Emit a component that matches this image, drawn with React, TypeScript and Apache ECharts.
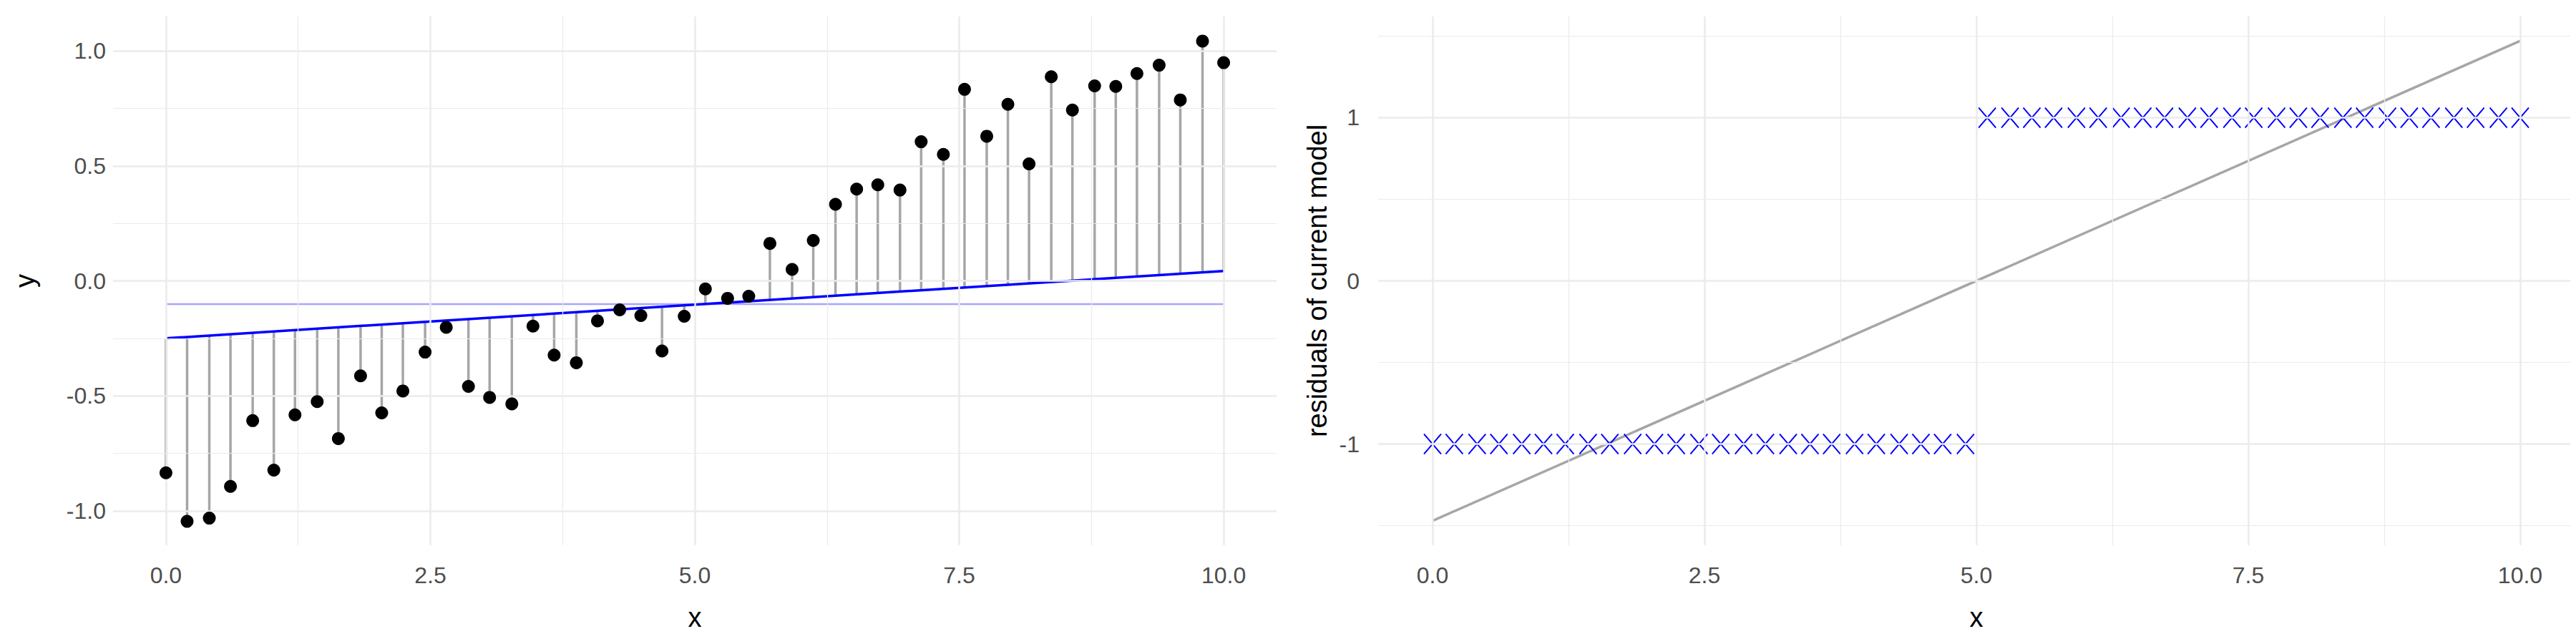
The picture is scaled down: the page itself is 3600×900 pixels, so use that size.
import { useEffect, useRef } from "react";
import * as echarts from "echarts";

const xs = [
  0, 0.2, 0.41, 0.61, 0.82, 1.02, 1.22, 1.43, 1.63, 1.84, 2.04, 2.24, 2.45, 2.65, 2.86, 3.06, 3.27,
  3.47, 3.67, 3.88, 4.08, 4.29, 4.49, 4.69, 4.9, 5.1, 5.31, 5.51, 5.71, 5.92, 6.12, 6.33, 6.53, 6.73,
  6.94, 7.14, 7.35, 7.55, 7.76, 7.96, 8.16, 8.37, 8.57, 8.78, 8.98, 9.18, 9.39, 9.59, 9.8, 10,
];
const ys = [
  -0.835, -1.046, -1.032, -0.894, -0.608, -0.823, -0.583, -0.525, -0.686, -0.413, -0.574, -0.479,
  -0.31, -0.202, -0.459, -0.507, -0.535, -0.197, -0.323, -0.356, -0.174, -0.126, -0.151, -0.305,
  -0.154, -0.035, -0.076, -0.067, 0.163, 0.05, 0.176, 0.333, 0.399, 0.418, 0.395, 0.605, 0.55, 0.833,
  0.629, 0.768, 0.509, 0.888, 0.743, 0.848, 0.846, 0.902, 0.938, 0.787, 1.043, 0.949,
];
const residualSigns = [
  -1, -1, -1, -1, -1, -1, -1, -1, -1, -1, -1, -1, -1, -1, -1, -1, -1, -1, -1, -1, -1, -1, -1, -1, -1,
  1, 1, 1, 1, 1, 1, 1, 1, 1, 1, 1, 1, 1, 1, 1, 1, 1, 1, 1, 1, 1, 1, 1, 1, 1, 1, 1, 1, 1, 1,
];
const fitLine: [number, number][] = [[0, -0.25], [10, 0.043]];
const meanY = -0.101;
const learnerLine: [number, number][] = [[0, -1.47], [10, 1.47]];

const xMajor = [0, 2.5, 5, 7.5, 10];
const xMinor = [1.25, 3.75, 6.25, 8.75];
const leftYMajor = [-1, -0.5, 0, 0.5, 1];
const leftYMinor = [-0.75, -0.25, 0.25, 0.75];
const rightYMajor = [-1, 0, 1];
const rightYMinor = [-1.5, -0.5, 0.5, 1.5];

const GRID = "#ebebeb";
const FONT = "Liberation Sans, Arial, sans-serif";

const gridLines = (yMajor: number[], yMinor: number[]) => [
  ...xMajor.map((v) => ({ xAxis: v, lineStyle: { width: 2.5 } })),
  ...xMinor.map((v) => ({ xAxis: v, lineStyle: { width: 1.2 } })),
  ...yMajor.map((v) => ({ yAxis: v, lineStyle: { width: 2.5 } })),
  ...yMinor.map((v) => ({ yAxis: v, lineStyle: { width: 1.2 } })),
];

const fitAt = (x: number) =>
  fitLine[0][1] + ((x - fitLine[0][0]) * (fitLine[1][1] - fitLine[0][1])) / (fitLine[1][0] - fitLine[0][0]);

const xAxisBase = (gridIndex: number) => ({
  type: "value" as const,
  gridIndex,
  min: -0.5,
  max: 10.5,
  splitLine: { show: false },
  axisLine: { show: false },
  axisTick: { show: false },
  axisLabel: {
    customValues: xMajor,
    formatter: (v: number) => v.toFixed(1),
    color: "#4d4d4d",
    fontSize: 32,
    fontFamily: FONT,
    margin: 26,
  },
  name: "x",
  nameLocation: "middle" as const,
  nameGap: 82,
  nameTextStyle: { color: "#000", fontSize: 38, fontFamily: FONT },
});

const App = () => {
  const ref = useRef<HTMLDivElement>(null);

  useEffect(() => {
    if (!ref.current) return;
    const chart = echarts.init(ref.current, null, { renderer: "svg" });
    chart.setOption({
      animation: false,
      backgroundColor: "#fff",
      grid: [
        { left: 150, right: 1824, top: 15, bottom: 146 },
        { left: 1918, right: 10, top: 15, bottom: 146 },
      ],
      xAxis: [xAxisBase(0), xAxisBase(1)],
      yAxis: [
        {
          type: "value",
          gridIndex: 0,
          min: -1.15,
          max: 1.15,
          splitLine: { show: false },
          axisLine: { show: false },
          axisTick: { show: false },
          axisLabel: {
            customValues: leftYMajor,
            formatter: (v: number) => v.toFixed(1),
            color: "#4d4d4d",
            fontSize: 32,
            fontFamily: FONT,
            margin: 10,
          },
          name: "y",
          nameLocation: "middle",
          nameGap: 104,
          nameTextStyle: { color: "#000", fontSize: 38, fontFamily: FONT },
        },
        {
          type: "value",
          gridIndex: 1,
          min: -1.62,
          max: 1.62,
          splitLine: { show: false },
          axisLine: { show: false },
          axisTick: { show: false },
          axisLabel: {
            customValues: rightYMajor,
            color: "#4d4d4d",
            fontSize: 32,
            fontFamily: FONT,
            margin: 26,
          },
          name: "residuals of current model",
          nameLocation: "middle",
          nameGap: 66,
          nameTextStyle: { color: "#000", fontSize: 38, fontFamily: FONT },
        },
      ],
      series: [
        {
          type: "line",
          xAxisIndex: 0,
          yAxisIndex: 0,
          data: [],
          z: 0,
          silent: true,
          markLine: {
            silent: true,
            symbol: "none",
            label: { show: false },
            lineStyle: { color: GRID, type: "solid" },
            data: gridLines(leftYMajor, leftYMinor),
          },
        },
        {
          type: "line",
          xAxisIndex: 1,
          yAxisIndex: 1,
          data: [],
          z: 0,
          silent: true,
          markLine: {
            silent: true,
            symbol: "none",
            label: { show: false },
            lineStyle: { color: GRID, type: "solid" },
            data: gridLines(rightYMajor, rightYMinor),
          },
        },
        {
          type: "line",
          xAxisIndex: 0,
          yAxisIndex: 0,
          data: [[xs[0], meanY], [xs[xs.length - 1], meanY]],
          symbol: "none",
          lineStyle: { color: "rgba(0,0,255,0.35)", width: 2.5 },
          z: 2,
        },
        {
          type: "custom",
          xAxisIndex: 0,
          yAxisIndex: 0,
          data: xs.map((x, i) => [x, ys[i]]),
          z: 3,
          renderItem: (params: any, api: any) => {
            const x = api.value(0);
            const p1 = api.coord([x, api.value(1)]);
            const p2 = api.coord([x, fitAt(x)]);
            return {
              type: "line",
              shape: { x1: p1[0], y1: p1[1], x2: p2[0], y2: p2[1] },
              style: { stroke: "#a6a6a6", lineWidth: 3.5 },
            };
          },
        },
        {
          type: "line",
          xAxisIndex: 0,
          yAxisIndex: 0,
          data: fitLine,
          symbol: "none",
          lineStyle: { color: "#0000ff", width: 3.5 },
          z: 4,
        },
        {
          type: "scatter",
          xAxisIndex: 0,
          yAxisIndex: 0,
          data: xs.map((x, i) => [x, ys[i]]),
          symbol: "circle",
          symbolSize: 18,
          itemStyle: { color: "#000", opacity: 1 },
          z: 5,
        },
        {
          type: "line",
          xAxisIndex: 1,
          yAxisIndex: 1,
          data: learnerLine,
          symbol: "none",
          lineStyle: { color: "#a6a6a6", width: 3.5 },
          z: 3,
        },
        {
          type: "scatter",
          xAxisIndex: 1,
          yAxisIndex: 1,
          data: xs.map((x, i) => [x, residualSigns[i]]),
          symbol: "path://M0,0L10,12M10,0L0,12",
          symbolSize: [24, 28],
          itemStyle: { color: "none", borderColor: "#0000ff", borderWidth: 2, opacity: 1 },
          z: 4,
        },
      ],
    });
    return () => chart.dispose();
  }, []);

  return <div ref={ref} style={{ width: 3600, height: 900 }} />;
};

export default App;
